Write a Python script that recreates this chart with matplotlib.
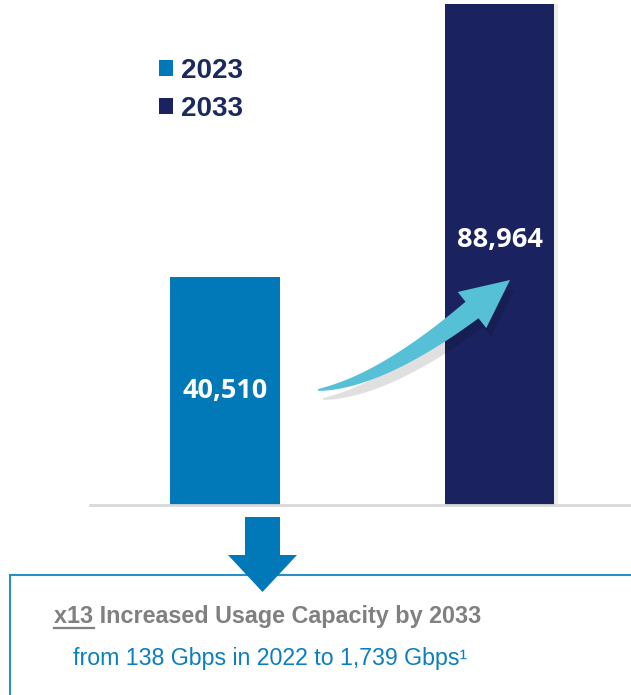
import matplotlib
matplotlib.use('Agg')
import matplotlib.pyplot as plt
import numpy as np
from matplotlib.patches import Patch, Polygon, Rectangle
from matplotlib.lines import Line2D

# chart data
years = ["2023", "2033"]
values = [40510, 88964]
colors = ["#0179B8", "#1A2360"]
headline_tag = "x13"
headline = "x13 Increased Usage Capacity by 2033"
subline = "from 138 Gbps in 2022 to 1,739 Gbps\u00b9"

W, H = 631, 695
plt.rcParams['font.family'] = ['Liberation Sans', 'DejaVu Sans']
fig = plt.figure(figsize=(W / 100, H / 100), dpi=100)

# axes spans from x=90px to the right edge, baseline at y=505px
ax = fig.add_axes([90 / W, (H - 505) / H, 1 - 90 / W, 505 / H])
pos = list(range(len(years)))
ax.bar(pos[1] + 0.012, values[1], width=0.40, color="#000000", alpha=0.07, zorder=1)  # soft shadow
bars = ax.bar(pos, values, width=0.40, color=colors, zorder=2)
ax.set_xlim(-0.492, 1.479)
ax.set_ylim(0, 89700)
for s in ["top", "left", "right"]:
    ax.spines[s].set_visible(False)
ax.spines["bottom"].set_color("#D9D9D9")
ax.spines["bottom"].set_linewidth(2)
ax.set_xticks([])
ax.set_yticks([])

# value labels
label_y = [values[0] * 0.5, values[1] * 0.53]
for p, v, ly in zip(pos, values, label_y):
    ax.text(p, ly, f"{v:,}", ha='center', va='center', color='white',
            fontsize=19.5, fontweight='bold', family='Open Sans', zorder=5)


# curved, tapering growth arrow (pixel geometry, y measured from top)
def growth_arrow(p0, c, p2, tip, w0, w1, head_w):
    p0, c, p2, tip = map(np.array, (p0, c, p2, tip))
    t = np.linspace(0, 1, 60)[:, None]
    pts = (1 - t) ** 2 * p0 + 2 * (1 - t) * t * c + t ** 2 * p2
    der = 2 * (1 - t) * (c - p0) + 2 * t * (p2 - c)
    nrm = np.column_stack([-der[:, 1], der[:, 0]])
    nrm /= np.linalg.norm(nrm, axis=1)[:, None]
    w = (w0 + (w1 - w0) * t ** 0.8) / 2
    left = pts + nrm * w
    right = pts - nrm * w
    d = tip - p2
    n2 = np.array([-d[1], d[0]]) / np.linalg.norm(d)
    outline = np.vstack([left, p2 + n2 * head_w / 2, tip, p2 - n2 * head_w / 2, right[::-1]])
    return outline


def to_fig(pts):
    return np.column_stack([pts[:, 0] / W, 1 - pts[:, 1] / H])


shape = growth_arrow((318, 390), (381, 382), (472, 310), (510, 280), 1.5, 21, 46)
fig.patches.append(Polygon(to_fig(shape + np.array([5, 9])), closed=True, transform=fig.transFigure,
                           facecolor="#000000", alpha=0.12, edgecolor='none', zorder=3))
fig.patches.append(Polygon(to_fig(shape), closed=True, transform=fig.transFigure,
                           facecolor="#56C1D6", edgecolor='none', zorder=4))

# legend
handles = [Patch(facecolor=c, edgecolor='none') for c in colors]
leg = fig.legend(handles, years, loc='upper left', bbox_to_anchor=(134 / W, 1 - 33 / H),
                 frameon=False, handlelength=0.52, handleheight=0.52, handletextpad=0.28,
                 labelspacing=0.43, prop={'size': 20, 'weight': 'bold'})
for t in leg.get_texts():
    t.set_color("#1B2A5E")

# summary box
fig.patches.append(Rectangle((10 / W, -0.01), 1, (H - 575) / H + 0.01, transform=fig.transFigure,
                             facecolor='white', edgecolor="#2A8FC8", lw=1.5, zorder=1))

# down arrow
down = np.array([(245, 517), (280, 517), (280, 555), (297, 555), (262.5, 592),
                 (228, 555), (245, 555)])
fig.patches.append(Polygon(to_fig(down), closed=True, transform=fig.transFigure,
                           facecolor="#0179B8", edgecolor='none', zorder=2))

t1 = fig.text(268 / W, 1 - 617 / H, headline, ha='center', va='center', color="#808080",
              fontsize=16.8, fontweight='bold', zorder=3)
fig.text(270 / W, 1 - 658 / H, subline, ha='center', va='center', color="#0A7FC0",
         fontsize=16.7, zorder=3)

# underline the multiplier
fig.canvas.draw()
r = fig.canvas.get_renderer()
bb = t1.get_window_extent(r)
tag = fig.text(0, 0, headline_tag, fontsize=16.8, fontweight='bold')
tw = tag.get_window_extent(r).width
tag.remove()
uy = (bb.y0 + 1) / H
fig.add_artist(Line2D([bb.x0 / W, (bb.x0 + tw) / W], [uy, uy], transform=fig.transFigure,
                      color="#808080", lw=1.6, zorder=3))

fig.savefig("out.png", dpi=100)
